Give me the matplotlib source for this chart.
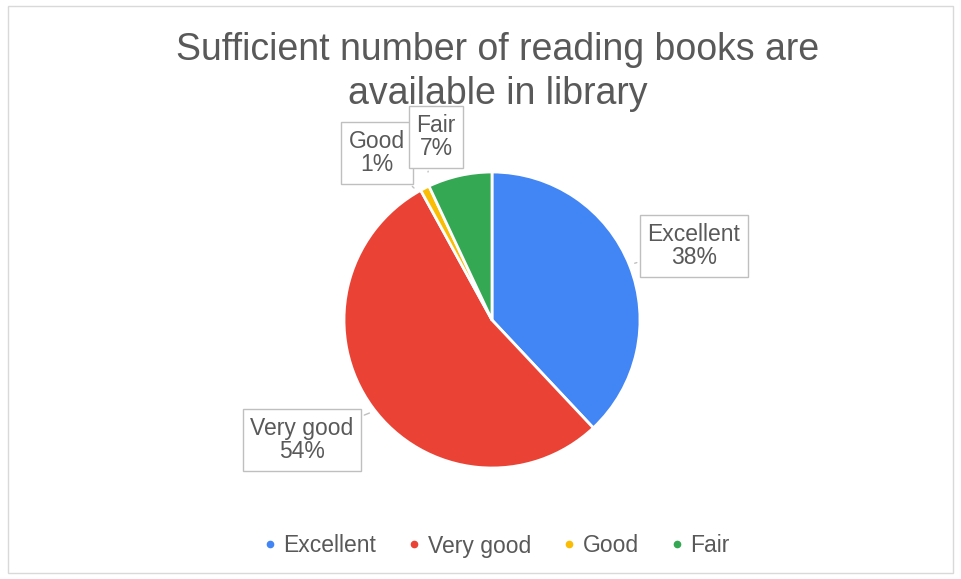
import matplotlib.pyplot as plt
from matplotlib.patches import Rectangle

categories = ["Excellent", "Very good", "Good", "Fair"]
shares = [38, 54, 1, 7]
colors = ["#4285F4", "#EA4335", "#FBBC04", "#34A853"]
title = "Sufficient number of reading books are\navailable in library"

W, H = 961, 579
fig = plt.figure(figsize=(W / 100, H / 100), dpi=100)
plt.rcParams['font.family'] = ['Liberation Sans', 'DejaVu Sans']
ax = fig.add_axes([0, 0, 1, 1])

# light frame round the chart area
ax.add_patch(Rectangle((8, 6), W - 16, H - 12, fill=False, ec="#d9d9d9", lw=1))

cx, cy, r = 492, H - 320, 148
wedges, _ = ax.pie(shares, colors=colors, startangle=90, counterclock=False,
                   center=(cx, cy), radius=r, frame=True,
                   wedgeprops=dict(edgecolor="white", linewidth=2))
ax.set_xlim(0, W)
ax.set_ylim(0, H)
ax.set_aspect('equal')
ax.axis('off')

ax.text(498, H - 72, title, ha="center", va="center", fontsize=27,
        color="#595959", linespacing=1.3)

# callout boxes: (box centre in px, point on pie in px)
callouts = [
    ((694, 246), (632, 264)),
    ((302, 440), (372, 412)),
    ((377, 153), (414, 188)),
    ((436, 137), (428, 172)),
]
for (name, val), ((bx, by), (px, py)) in zip(zip(categories, shares), callouts):
    ax.annotate(f"{name}\n{val}%", xy=(px, H - py), xytext=(bx, H - by),
                ha="center", va="center", fontsize=16.5, color="#595959",
                linespacing=1.05,
                bbox=dict(boxstyle="square,pad=0.33", fc="white", ec="#bfbfbf", lw=1),
                arrowprops=dict(arrowstyle="-", color="#bfbfbf", lw=1))

handles = [plt.Line2D([], [], marker="o", ls="", color=c, markersize=4.5) for c in colors]
fig.legend(handles, categories, loc="center", bbox_to_anchor=(497 / W, 1 - 546 / H),
           ncol=4, frameon=False, fontsize=16.5, handlelength=0.5,
           handletextpad=0.35, columnspacing=1.4, labelcolor="#595959")

fig.savefig("out.png", dpi=100)
